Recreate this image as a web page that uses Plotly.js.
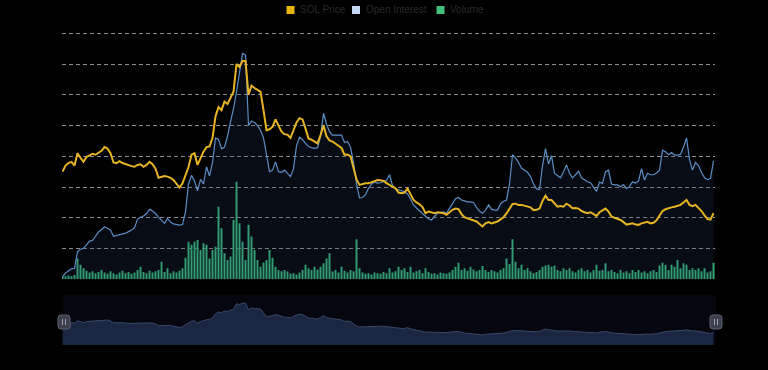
<!DOCTYPE html>
<html>
<head>
<meta charset="utf-8">
<script src="https://cdn.plot.ly/plotly-3.0.1.min.js"></script>
<style>html,body{margin:0;padding:0;background:#000;}#chart{width:768px;height:370px;}</style>
</head>
<body>
<div id="chart"></div>
<script>
// ---- data (daily) ----
const startDate = '2023-06-01';
const seriesNames = ['SOL Price', 'Open Interest', 'Volume'];

const price = [
 35.0,37.0,37.8,38.2,37.0,41.0,39.5,38.2,39.8,40.2,
 40.8,40.5,41.2,41.8,43.0,42.5,41.0,38.0,37.8,38.4,
 37.8,37.4,37.0,36.8,36.6,37.2,37.4,36.6,37.2,38.2,
 37.4,36.0,33.0,33.2,33.6,33.4,33.0,32.3,31.0,29.8,
 31.2,34.0,36.5,40.5,41.0,37.2,39.5,41.5,43.0,43.2,
 46.0,53.0,56.0,55.0,57.8,57.0,59.0,61.0,70.0,69.0,
 71.0,71.0,60.0,63.0,62.2,61.6,61.0,55.0,48.5,48.8,
 49.6,52.0,50.0,48.0,47.2,47.0,46.0,48.8,51.0,52.4,
 52.0,49.0,45.8,45.4,44.8,44.2,46.9,50.0,46.5,45.2,
 44.8,44.0,43.4,42.7,40.5,40.6,40.0,36.0,32.5,30.7,
 31.0,31.2,31.2,31.5,31.8,32.3,32.2,32.0,31.3,30.6,
 30.1,29.6,28.2,28.0,28.2,29.5,27.5,25.8,25.0,24.4,
 23.5,21.5,22.0,21.7,21.5,21.8,21.6,21.5,21.0,21.8,
 22.6,23.0,22.8,21.2,20.2,19.8,19.5,19.2,18.8,18.0,
 17.2,18.2,18.6,18.2,18.5,18.8,19.5,20.2,21.4,23.0,
 24.5,24.6,24.2,24.2,24.0,23.7,23.4,22.5,22.6,23.0,
 25.5,27.2,25.8,25.8,24.8,23.6,23.8,23.6,24.6,24.0,
 23.1,23.2,23.0,22.2,21.8,21.5,21.8,21.2,20.6,21.8,
 22.4,23.0,22.0,20.4,20.0,19.7,19.3,18.6,17.8,18.0,
 18.2,17.8,17.7,18.2,18.5,18.7,18.2,18.4,19.2,20.5,
 22.2,22.8,23.2,23.4,23.6,24.0,24.2,25.0,25.8,24.2,
 23.8,24.2,23.2,22.2,20.8,19.6,19.4,21.5
];

const openInterest = [ // billions
 0.08,0.20,0.28,0.34,0.36,0.90,0.98,1.01,1.12,1.24,
 1.26,1.40,1.54,1.62,1.70,1.66,1.60,1.40,1.42,1.44,
 1.48,1.50,1.55,1.60,1.68,1.96,2.02,2.06,2.14,2.28,
 2.22,2.14,2.02,1.92,1.82,1.98,1.86,1.80,1.77,1.76,
 1.78,2.20,3.10,3.38,3.20,2.88,3.25,3.10,3.66,3.36,
 3.80,4.60,4.55,4.25,4.30,4.66,5.13,5.55,6.10,6.80,
 7.35,7.30,5.00,5.15,5.10,5.00,4.85,4.60,4.05,3.50,
 3.55,3.82,3.50,3.48,3.55,3.45,3.34,3.60,4.35,4.62,
 4.55,4.42,4.32,4.28,4.26,4.28,4.64,5.40,5.05,4.80,
 4.69,4.69,4.70,4.69,4.45,4.48,4.30,3.80,3.10,2.65,
 2.66,2.75,2.96,3.10,3.17,3.13,3.14,3.17,3.22,3.40,
 3.05,2.94,2.90,2.88,2.85,2.78,2.62,2.42,2.32,2.22,
 2.15,2.05,1.97,1.93,2.05,2.15,2.18,2.19,2.15,2.30,
 2.44,2.62,2.66,2.58,2.55,2.52,2.52,2.50,2.34,2.22,
 2.15,2.25,2.42,2.28,2.25,2.25,2.45,2.54,2.58,3.10,
 4.05,3.95,3.80,3.62,3.55,3.48,3.34,3.10,2.94,2.92,
 3.70,4.25,3.75,4.02,3.45,3.36,3.30,3.50,3.72,3.45,
 3.30,3.40,3.52,3.30,3.22,3.17,3.14,3.00,2.86,3.16,
 3.12,3.50,3.55,3.10,3.07,3.07,3.01,3.08,2.95,3.02,
 3.17,3.13,3.20,3.60,3.23,3.45,3.40,3.40,3.46,3.55,
 4.20,4.15,4.05,4.12,4.04,4.04,4.06,4.30,4.60,3.90,
 3.55,3.80,3.70,3.48,3.30,3.24,3.28,3.85
];

const volume = [ // billions
 0.08,0.10,0.12,0.10,0.14,0.68,0.47,0.36,0.28,0.22,
 0.26,0.20,0.24,0.30,0.22,0.18,0.26,0.20,0.16,0.22,
 0.28,0.20,0.24,0.18,0.22,0.30,0.41,0.24,0.20,0.28,
 0.22,0.26,0.30,0.57,0.24,0.36,0.20,0.26,0.22,0.28,
 0.36,0.70,1.22,1.12,1.22,1.28,0.95,1.17,1.12,0.68,
 0.95,1.06,2.36,1.66,0.85,0.63,0.74,1.93,3.17,1.82,
 1.22,0.63,1.77,1.39,0.95,0.63,0.41,0.55,0.63,0.95,
 0.70,0.41,0.30,0.26,0.30,0.25,0.18,0.20,0.16,0.22,
 0.30,0.47,0.36,0.30,0.41,0.32,0.41,0.52,0.68,0.85,
 0.25,0.30,0.22,0.41,0.28,0.22,0.30,0.26,1.30,0.36,
 0.22,0.18,0.20,0.16,0.22,0.20,0.18,0.24,0.20,0.36,
 0.22,0.26,0.41,0.30,0.36,0.24,0.41,0.22,0.26,0.30,
 0.20,0.36,0.24,0.18,0.20,0.16,0.22,0.20,0.18,0.22,
 0.30,0.41,0.54,0.30,0.36,0.28,0.41,0.32,0.26,0.30,
 0.43,0.30,0.24,0.30,0.26,0.22,0.30,0.36,0.68,0.50,
 1.30,0.57,0.36,0.47,0.30,0.36,0.26,0.20,0.24,0.30,
 0.41,0.45,0.47,0.41,0.45,0.30,0.26,0.36,0.30,0.36,
 0.26,0.22,0.30,0.36,0.26,0.30,0.22,0.30,0.47,0.28,
 0.30,0.52,0.26,0.30,0.24,0.20,0.30,0.22,0.26,0.20,
 0.30,0.24,0.30,0.22,0.26,0.20,0.26,0.30,0.24,0.45,
 0.54,0.47,0.30,0.47,0.41,0.63,0.36,0.52,0.47,0.30,
 0.36,0.30,0.36,0.26,0.36,0.22,0.26,0.54
];

const gridTicks = [1,2,3,4,5,6,7,8];

// ---- dates ----
const DAY = 86400000;
const t0 = Date.parse(startDate + 'T00:00:00Z');
const dates = price.map((_, i) => new Date(t0 + i * DAY).toISOString().slice(0, 10));
const r0 = t0 - 0.17 * DAY;
const r1 = r0 + (653 / 3) * DAY;
const xRange = [new Date(r0).toISOString(), new Date(r1).toISOString()];

const C = {gold:'#e6b422', blue:'#5b8ec6', green:'#36b679'};

const traces = [
  {type:'bar', name:seriesNames[2], x:dates, y:volume, xaxis:'x', yaxis:'y',
   marker:{color:C.green, line:{width:0}}, hoverinfo:'skip'},
  {type:'scatter', mode:'lines', name:seriesNames[1], x:dates, y:openInterest, xaxis:'x', yaxis:'y2',
   line:{color:C.blue, width:1.2}, fill:'tozeroy', fillcolor:'rgba(35,60,95,0.22)', hoverinfo:'skip'},
  {type:'scatter', mode:'lines', name:seriesNames[0], x:dates, y:price, xaxis:'x', yaxis:'y3',
   line:{color:C.gold, width:2}, hoverinfo:'skip'},
  {type:'scatter', mode:'lines', name:'slider', x:dates, y:price, xaxis:'x2', yaxis:'y4',
   line:{color:'#3a4968', width:1}, fill:'tozeroy', fillcolor:'#1b2642', hoverinfo:'skip', showlegend:false}
];

const PW = 653, PH = 313, L = 62, B = 345, T = 32;
const px = v => (v - L) / PW;
const py = v => (B - v) / PH;
const YTOP = 8 + (33.3 - T) / 30.75; // range top so that tick 8 sits on the top grid line

function handle(cx) {
  return {type:'path', xref:'paper', yref:'paper', xsizemode:'pixel', ysizemode:'pixel',
    xanchor:px(cx), yanchor:py(322),
    path:'M -6,-4 Q -6,-7 -3,-7 L 3,-7 Q 6,-7 6,-4 L 6,4 Q 6,7 3,7 L -3,7 Q -6,7 -6,4 Z',
    fillcolor:'#3b3e4b', line:{color:'#5d6172', width:1}, layer:'above'};
}
function grip(cx, dx) {
  return {type:'line', xref:'paper', yref:'paper', xsizemode:'pixel', ysizemode:'pixel',
    xanchor:px(cx), yanchor:py(322), x0:dx, x1:dx, y0:-3, y1:3,
    line:{color:'#9da2b2', width:1}, layer:'above'};
}
function legSq(cx, color) {
  return {type:'rect', xref:'paper', yref:'paper', xsizemode:'pixel', ysizemode:'pixel',
    xanchor:px(cx), yanchor:py(10), x0:-4, x1:4, y0:-4, y1:4,
    fillcolor:color, line:{width:0}};
}
function legTxt(x, text) {
  return {xref:'paper', yref:'paper', x:px(x), y:py(10), xanchor:'left', yanchor:'middle',
    text:text, showarrow:false, font:{size:10, color:'#2a2a2a', family:'Liberation Sans, Arial, sans-serif'}};
}

const layout = {
  width:768, height:370,
  paper_bgcolor:'#000', plot_bgcolor:'#000',
  margin:{l:L, r:768-L-PW, t:T, b:370-B, pad:0},
  showlegend:false, bargap:0.35, hovermode:false,
  xaxis:{domain:[0,1], anchor:'y', type:'date', range:xRange, showgrid:false, showticklabels:false,
         zeroline:false, showline:false, ticks:''},
  yaxis:{domain:[py(279.3),1], range:[0,YTOP], tickmode:'array', tickvals:gridTicks, showticklabels:false,
         gridcolor:'rgba(190,190,190,0.75)', griddash:'4px,3px', gridwidth:1, zeroline:false, showline:false, ticks:''},
  yaxis2:{overlaying:'y', range:[0,YTOP], visible:false, showgrid:false, zeroline:false},
  yaxis3:{overlaying:'y', range:[0,YTOP*10], visible:false, showgrid:false, zeroline:false},
  xaxis2:{domain:[0,1], anchor:'y4', type:'date', range:xRange, visible:false, showgrid:false, zeroline:false},
  yaxis4:{domain:[0, py(295)], anchor:'x2', range:[0,85], visible:false, showgrid:false, zeroline:false},
  shapes:[
    {type:'rect', xref:'paper', yref:'paper', x0:px(63.3), x1:px(716), y0:0, y1:py(295),
     fillcolor:'#05060e', line:{width:0}, layer:'below'},
    handle(64), grip(64,-1.5), grip(64,1.5),
    handle(716), grip(716,-1.5), grip(716,1.5),
    legSq(290.5, '#e9b60f'), legSq(356, '#c4d6f5'), legSq(440.5, '#3ec27c')
  ],
  annotations:[
    legTxt(298, seriesNames[0]), legTxt(364, seriesNames[1]), legTxt(448, seriesNames[2])
  ]
};

Plotly.newPlot('chart', traces, layout, {displayModeBar:false, staticPlot:true});
</script>
</body>
</html>
